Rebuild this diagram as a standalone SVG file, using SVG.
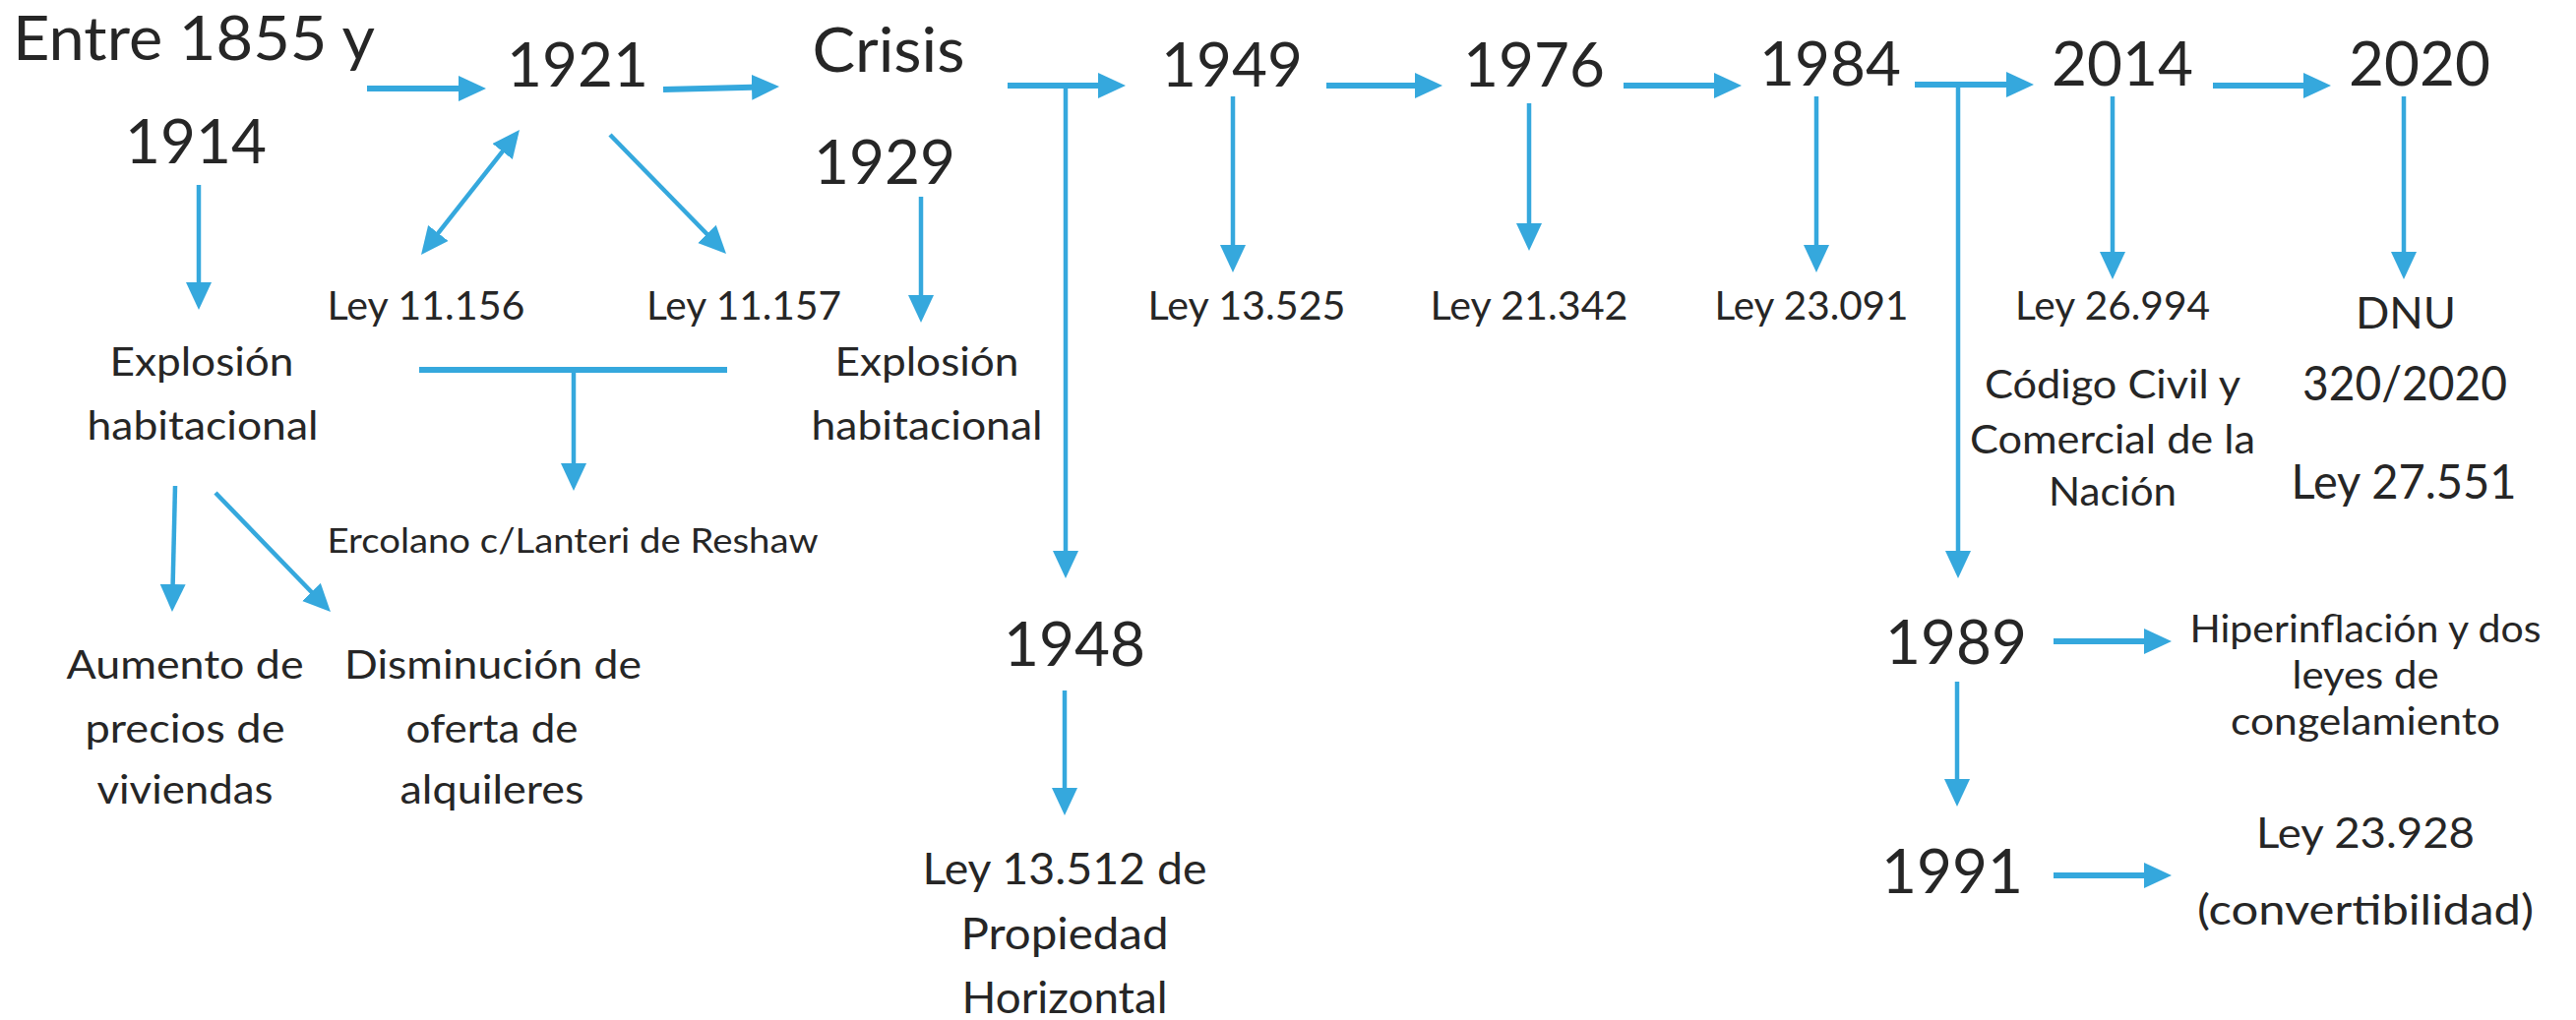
<svg xmlns="http://www.w3.org/2000/svg" width="2618" height="1037" viewBox="0 0 2618 1037">
<style>
text{font-family:Lato,"Noto Sans","DejaVu Sans",sans-serif;fill:#262626;text-anchor:middle}
.yr{font-size:62px}
.t{font-size:40px}
.c{fill:none;stroke:#35a8dd}
.h{stroke-width:6}
.v{stroke-width:4.5}
</style>
<defs>
<marker id="ah" markerUnits="userSpaceOnUse" markerWidth="28" markerHeight="28" viewBox="0 0 28 28" refX="18" refY="13" orient="auto-start-reverse"><path d="M0,0 L28,13 L0,26 z" fill="#35a8dd"/></marker>
</defs>
<rect width="2618" height="1037" fill="#fff"/>
<g id="connectors" class="c">
<path class="h" d="M373,90 H484" marker-end="url(#ah)"/>
<path class="h" d="M674,91 L782,88.3" marker-end="url(#ah)"/>
<path class="h" d="M1024,87 H1134" marker-end="url(#ah)"/>
<path class="v" d="M1083,87 V578" marker-end="url(#ah)"/>
<path class="h" d="M1348,87 H1456" marker-end="url(#ah)"/>
<path class="h" d="M1650,87 H1760" marker-end="url(#ah)"/>
<path class="h" d="M1946,86 H2057" marker-end="url(#ah)"/>
<path class="v" d="M1990,86 V578" marker-end="url(#ah)"/>
<path class="h" d="M2249,87 H2359" marker-end="url(#ah)"/>
<path class="v" d="M202,188 V305" marker-end="url(#ah)"/>
<path class="v" d="M936,200 V318" marker-end="url(#ah)"/>
<path class="v" d="M1253,98 V267" marker-end="url(#ah)"/>
<path class="v" d="M1554,105 V245" marker-end="url(#ah)"/>
<path class="v" d="M1846,98 V267" marker-end="url(#ah)"/>
<path class="v" d="M2147,98 V274" marker-end="url(#ah)"/>
<path class="v" d="M2443,98 V274" marker-end="url(#ah)"/>
<path class="h" d="M426,376 H739"/>
<path class="v" d="M583,376 V489" marker-end="url(#ah)"/>
<path class="v" d="M1082,702 V819" marker-end="url(#ah)"/>
<path class="v" d="M1989,693 V810" marker-end="url(#ah)"/>
<path class="h" d="M2087,652 H2197" marker-end="url(#ah)"/>
<path class="h" d="M2087,890 H2197" marker-end="url(#ah)"/>
<path class="v" d="M178,494 L175.2,612" marker-end="url(#ah)"/>
<path class="v" d="M219,501 L329,614.8" marker-end="url(#ah)"/>
<path class="v" d="M434.2,251.1 L521.8,139.9" marker-start="url(#ah)" marker-end="url(#ah)"/>
<path class="v" d="M620,137 L731,250.8" marker-end="url(#ah)"/>
</g>
<g id="n-1855"><text class="yr" x="197" y="61" textLength="368" lengthAdjust="spacingAndGlyphs">Entre 1855 y</text><text class="yr" x="199" y="166">1914</text></g>
<g id="n-1921"><text class="yr" x="587" y="88">1921</text></g>
<g id="n-crisis"><text class="yr" x="903" y="73" textLength="155" lengthAdjust="spacingAndGlyphs">Crisis</text><text class="yr" x="899" y="187">1929</text></g>
<g id="n-1949"><text class="yr" x="1252" y="88">1949</text></g>
<g id="n-1976"><text class="yr" x="1559" y="88">1976</text></g>
<g id="n-1984"><text class="yr" x="1860" y="87">1984</text></g>
<g id="n-2014"><text class="yr" x="2157" y="87">2014</text></g>
<g id="n-2020"><text class="yr" x="2459" y="87">2020</text></g>
<g id="n-1948"><text class="yr" x="1092" y="677">1948</text></g>
<g id="n-1989"><text class="yr" x="1988" y="675">1989</text></g>
<g id="n-1991"><text class="yr" x="1984" y="908">1991</text></g>
<g id="n-ley11156"><text class="t" x="433" y="325" textLength="201" lengthAdjust="spacingAndGlyphs">Ley 11.156</text></g>
<g id="n-ley11157"><text class="t" x="756" y="325" textLength="198" lengthAdjust="spacingAndGlyphs">Ley 11.157</text></g>
<g id="n-explosion1"><text class="t" x="205" y="382" textLength="187" lengthAdjust="spacingAndGlyphs">Explosión</text><text class="t" x="206" y="447" textLength="235" lengthAdjust="spacingAndGlyphs">habitacional</text></g>
<g id="n-explosion2"><text class="t" x="942" y="382" textLength="187" lengthAdjust="spacingAndGlyphs">Explosión</text><text class="t" x="942" y="447" textLength="235" lengthAdjust="spacingAndGlyphs">habitacional</text></g>
<g id="n-ercolano"><text x="582" y="562" style="font-size:34px" textLength="499" lengthAdjust="spacingAndGlyphs">Ercolano c/Lanteri de Reshaw</text></g>
<g id="n-aumento"><text class="t" x="188" y="690" textLength="241" lengthAdjust="spacingAndGlyphs">Aumento de</text><text class="t" x="188" y="755" textLength="203" lengthAdjust="spacingAndGlyphs">precios de</text><text class="t" x="188" y="817" textLength="179" lengthAdjust="spacingAndGlyphs">viviendas</text></g>
<g id="n-disminucion"><text class="t" x="501" y="690" textLength="302" lengthAdjust="spacingAndGlyphs">Disminución de</text><text class="t" x="500" y="755" textLength="175" lengthAdjust="spacingAndGlyphs">oferta de</text><text class="t" x="500" y="817" textLength="187" lengthAdjust="spacingAndGlyphs">alquileres</text></g>
<g id="n-ley13525"><text class="t" x="1267" y="325" textLength="201" lengthAdjust="spacingAndGlyphs">Ley 13.525</text></g>
<g id="n-ley21342"><text class="t" x="1554" y="325" textLength="201" lengthAdjust="spacingAndGlyphs">Ley 21.342</text></g>
<g id="n-ley23091"><text class="t" x="1841" y="325" textLength="197" lengthAdjust="spacingAndGlyphs">Ley 23.091</text></g>
<g id="n-ley26994"><text class="t" x="2147" y="325" textLength="198" lengthAdjust="spacingAndGlyphs">Ley 26.994</text></g>
<g id="n-codigo"><text class="t" x="2147" y="405" textLength="260" lengthAdjust="spacingAndGlyphs">Código Civil y</text><text class="t" x="2147" y="461" textLength="290" lengthAdjust="spacingAndGlyphs">Comercial de la</text><text class="t" x="2147" y="514" textLength="130" lengthAdjust="spacingAndGlyphs">Nación</text></g>
<g id="n-dnu"><text x="2445" y="334" style="font-size:45px" textLength="102" lengthAdjust="spacingAndGlyphs">DNU</text><text x="2444" y="407" style="font-size:48px" textLength="208" lengthAdjust="spacingAndGlyphs">320/2020</text><text x="2443" y="507" style="font-size:48px" textLength="229" lengthAdjust="spacingAndGlyphs">Ley 27.551</text></g>
<g id="n-ley13512"><text x="1082" y="899" style="font-size:44px" textLength="289" lengthAdjust="spacingAndGlyphs">Ley 13.512 de</text><text x="1082" y="965" style="font-size:44px" textLength="211" lengthAdjust="spacingAndGlyphs">Propiedad</text><text x="1082" y="1030" style="font-size:44px" textLength="209" lengthAdjust="spacingAndGlyphs">Horizontal</text></g>
<g id="n-hiper"><text x="2404" y="653" style="font-size:38px" textLength="357" lengthAdjust="spacingAndGlyphs">Hiperinflación y dos</text><text x="2404" y="700" style="font-size:38px" textLength="149" lengthAdjust="spacingAndGlyphs">leyes de</text><text x="2404" y="747" style="font-size:38px" textLength="274" lengthAdjust="spacingAndGlyphs">congelamiento</text></g>
<g id="n-ley23928"><text x="2404" y="862" style="font-size:42px" textLength="222" lengthAdjust="spacingAndGlyphs">Ley 23.928</text><text x="2404" y="940" style="font-size:42px" textLength="342" lengthAdjust="spacingAndGlyphs">(convertibilidad)</text></g>
</svg>
